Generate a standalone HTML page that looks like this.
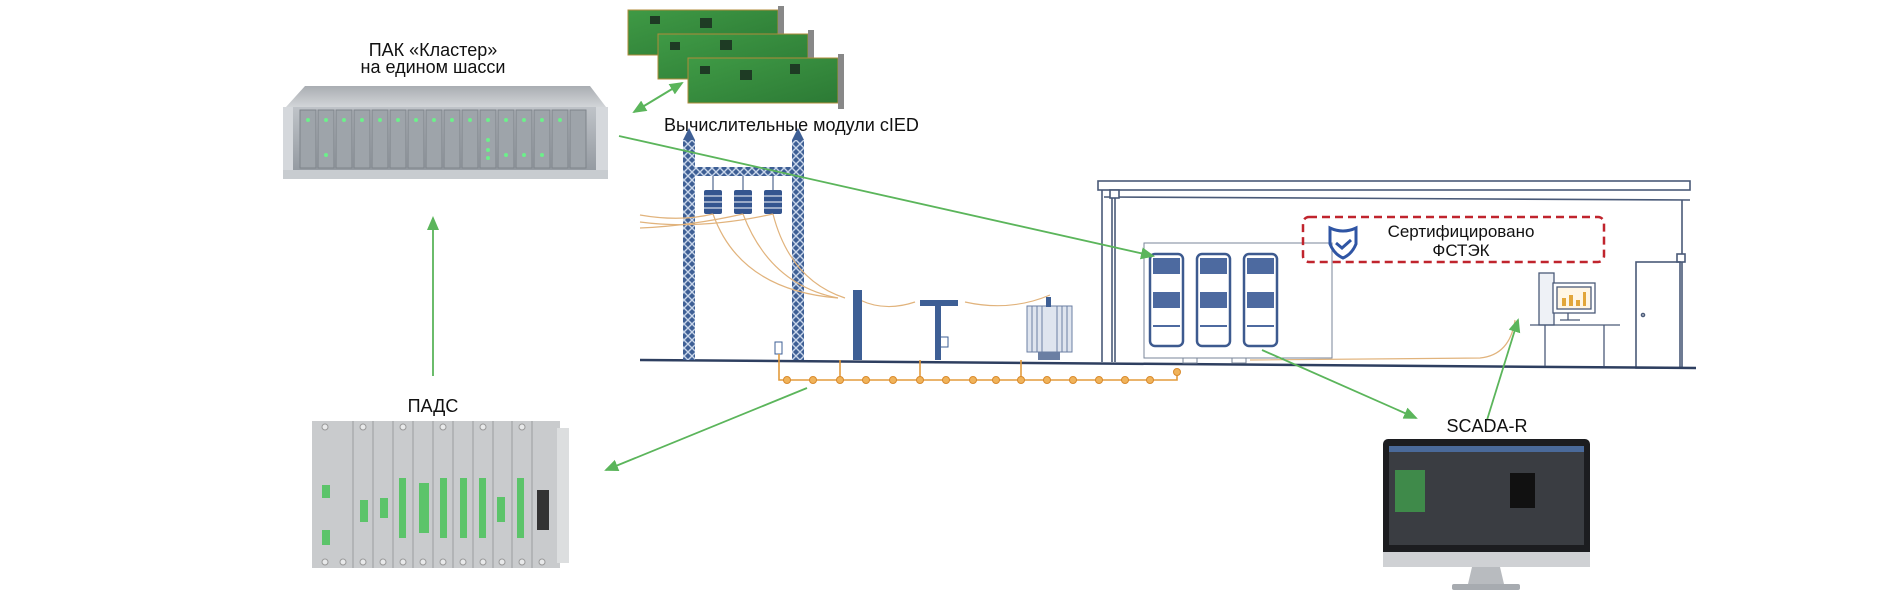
<!DOCTYPE html>
<html><head><meta charset="utf-8"><style>
html,body{margin:0;padding:0;background:#fff;width:1903px;height:611px;overflow:hidden}
svg{display:block}
text{font-family:"Liberation Sans","Noto Sans CJK SC",sans-serif;fill:#111}
</style></head><body>
<svg width="1903" height="611" viewBox="0 0 1903 611" xmlns="http://www.w3.org/2000/svg">
<defs>
<marker id="as" markerWidth="14" markerHeight="14" refX="12" refY="7" orient="auto-start-reverse" markerUnits="userSpaceOnUse"><path d="M0,1 L14,7 L0,13 z" fill="#5bb55b"/></marker>
<pattern id="lat" width="8" height="8" patternUnits="userSpaceOnUse"><rect width="8" height="8" fill="#3e5f95"/><path d="M0,0 L8,8 M8,0 L0,8" stroke="#c9d6ea" stroke-width="1.4"/></pattern>
<linearGradient id="chs" x1="0" y1="0" x2="0" y2="1"><stop offset="0" stop-color="#bfc3c8"/><stop offset="1" stop-color="#8f959c"/></linearGradient>
<linearGradient id="lid" x1="0" y1="0" x2="0" y2="1"><stop offset="0" stop-color="#a9adb2"/><stop offset="1" stop-color="#d2d5d8"/></linearGradient>
<linearGradient id="pcb" x1="0" y1="0" x2="1" y2="1"><stop offset="0" stop-color="#3f9a45"/><stop offset="1" stop-color="#2c7a35"/></linearGradient>
</defs>

<text x="433" y="56" font-size="18" text-anchor="middle">ПАК «Кластер»</text>
<text x="433" y="73" font-size="18" text-anchor="middle">на едином шасси</text>

<!-- Chassis -->
<polygon points="305,86 590,86 606,107 286,107" fill="url(#lid)"/>
<rect x="283" y="107" width="325" height="72" fill="url(#chs)"/>
<rect x="283" y="107" width="10" height="72" fill="#d5d8dc"/>
<rect x="596" y="107" width="12" height="72" fill="#d5d8dc"/>
<g fill="#9ea4aa" stroke="#7e848b" stroke-width="1">
<rect x="300" y="110" width="16" height="58"/><rect x="318" y="110" width="16" height="58"/><rect x="336" y="110" width="16" height="58"/><rect x="354" y="110" width="16" height="58"/><rect x="372" y="110" width="16" height="58"/><rect x="390" y="110" width="16" height="58"/><rect x="408" y="110" width="16" height="58"/><rect x="426" y="110" width="16" height="58"/><rect x="444" y="110" width="16" height="58"/><rect x="462" y="110" width="16" height="58"/><rect x="480" y="110" width="16" height="58"/><rect x="498" y="110" width="16" height="58"/><rect x="516" y="110" width="16" height="58"/><rect x="534" y="110" width="16" height="58"/><rect x="552" y="110" width="16" height="58"/><rect x="570" y="110" width="16" height="58"/>
</g>
<g fill="#6cf08a">
<circle cx="308" cy="120" r="2"/><circle cx="326" cy="120" r="2"/><circle cx="344" cy="120" r="2"/><circle cx="362" cy="120" r="2"/><circle cx="380" cy="120" r="2"/><circle cx="398" cy="120" r="2"/><circle cx="416" cy="120" r="2"/><circle cx="434" cy="120" r="2"/><circle cx="452" cy="120" r="2"/><circle cx="470" cy="120" r="2"/><circle cx="488" cy="120" r="2"/><circle cx="506" cy="120" r="2"/><circle cx="524" cy="120" r="2"/><circle cx="542" cy="120" r="2"/><circle cx="560" cy="120" r="2"/>
<circle cx="326" cy="155" r="2"/><circle cx="488" cy="140" r="2"/><circle cx="488" cy="150" r="2"/><circle cx="488" cy="158" r="2"/><circle cx="506" cy="155" r="2"/><circle cx="524" cy="155" r="2"/><circle cx="542" cy="155" r="2"/>
</g>
<rect x="283" y="170" width="325" height="9" fill="#c8ccd0"/>

<!-- PCB boards -->
<g>
<rect x="628" y="10" width="150" height="45" fill="url(#pcb)" stroke="#b08b3a"/>
<rect x="778" y="6" width="6" height="55" fill="#888"/>
<rect x="658" y="34" width="150" height="45" fill="url(#pcb)" stroke="#b08b3a"/>
<rect x="808" y="30" width="6" height="55" fill="#888"/>
<rect x="688" y="58" width="150" height="45" fill="url(#pcb)" stroke="#b08b3a"/>
<rect x="838" y="54" width="6" height="55" fill="#888"/>
<g fill="#1e3b24"><rect x="700" y="66" width="10" height="8"/><rect x="740" y="70" width="12" height="10"/><rect x="790" y="64" width="10" height="10"/><rect x="670" y="42" width="10" height="8"/><rect x="720" y="40" width="12" height="10"/><rect x="650" y="16" width="10" height="8"/><rect x="700" y="18" width="12" height="10"/></g>
</g>
<text x="664" y="131" font-size="18">Вычислительные модули cIED</text>
<line x1="634" y1="112" x2="682" y2="83" stroke="#5bb55b" stroke-width="2" marker-start="url(#as)" marker-end="url(#as)"/>

<!-- Building -->
<g stroke="#4a5a78" fill="none" stroke-width="1.6">
<rect x="1098" y="181" width="592" height="9" fill="#fff"/>
<line x1="1104" y1="197" x2="1690" y2="200"/>
<line x1="1102" y1="190" x2="1102" y2="362"/>
<line x1="1112" y1="197" x2="1112" y2="362"/>
<line x1="1115" y1="197" x2="1115" y2="362"/>
<rect x="1110" y="190" width="9" height="8" fill="#fff"/>
<line x1="1682" y1="200" x2="1682" y2="368"/>
<rect x="1677" y="254" width="8" height="8" fill="#fff"/>
<rect x="1636" y="262" width="44" height="106"/>
<circle cx="1643" cy="315" r="1.5"/>
</g>
<line x1="640" y1="360" x2="1696" y2="368" stroke="#2e3f60" stroke-width="2.5"/>

<!-- Tower -->
<rect x="683" y="140" width="12" height="220" fill="url(#lat)"/>
<rect x="792" y="140" width="12" height="220" fill="url(#lat)"/>
<polygon points="683,140 689,128 695,140" fill="#3e5f95"/>
<polygon points="792,140 798,128 804,140" fill="#3e5f95"/>
<rect x="695" y="167" width="97" height="9" fill="url(#lat)"/>
<g stroke="#2e4a7a" stroke-width="1"><line x1="713" y1="176" x2="713" y2="190"/><line x1="743" y1="176" x2="743" y2="190"/><line x1="773" y1="176" x2="773" y2="190"/></g>
<g fill="#34558f">
<rect x="704" y="190" width="18" height="24" rx="2"/><rect x="734" y="190" width="18" height="24" rx="2"/><rect x="764" y="190" width="18" height="24" rx="2"/>
</g>
<g stroke="#fff" stroke-width="1"><line x1="704" y1="196" x2="722" y2="196"/><line x1="704" y1="202" x2="722" y2="202"/><line x1="704" y1="208" x2="722" y2="208"/><line x1="734" y1="196" x2="752" y2="196"/><line x1="734" y1="202" x2="752" y2="202"/><line x1="734" y1="208" x2="752" y2="208"/><line x1="764" y1="196" x2="782" y2="196"/><line x1="764" y1="202" x2="782" y2="202"/><line x1="764" y1="208" x2="782" y2="208"/></g>
<g stroke="#e1b37c" fill="none" stroke-width="1.2">
<path d="M640,215 Q680,222 713,214"/><path d="M640,228 Q690,226 743,214"/><path d="M640,222 Q700,230 773,214"/>
<path d="M713,214 Q740,290 838,298"/><path d="M743,214 Q770,285 838,298"/><path d="M773,214 Q790,280 845,298"/>
<path d="M860,300 Q885,312 915,302"/><path d="M965,302 Q1010,312 1050,295"/>
<path d="M1250,360 L1480,358 Q1510,355 1515,320"/>
</g>
<rect x="853" y="290" width="9" height="70" fill="#3e5f95"/>
<rect x="920" y="300" width="38" height="6" fill="#3e5f95"/>
<rect x="935" y="306" width="6" height="54" fill="#3e5f95"/>
<rect x="940" y="337" width="8" height="10" fill="none" stroke="#3e5f95"/>
<rect x="1027" y="306" width="45" height="46" fill="#dfe5ef" stroke="#6b7fa3"/>
<g stroke="#6b7fa3"><line x1="1032" y1="306" x2="1032" y2="352"/><line x1="1037" y1="306" x2="1037" y2="352"/><line x1="1042" y1="306" x2="1042" y2="352"/><line x1="1057" y1="306" x2="1057" y2="352"/><line x1="1062" y1="306" x2="1062" y2="352"/><line x1="1067" y1="306" x2="1067" y2="352"/></g>
<rect x="1046" y="297" width="5" height="10" fill="#3e5f95"/>
<rect x="1038" y="352" width="22" height="8" fill="#6b7fa3"/>
<rect x="775" y="342" width="7" height="12" fill="#fff" stroke="#3e5f95"/>

<g stroke="#e39b3c" fill="none" stroke-width="1.6">
<polyline points="779,354 779,380 1177,380 1177,372"/>
<line x1="840" y1="360" x2="840" y2="380"/><line x1="920" y1="360" x2="920" y2="380"/><line x1="1021" y1="360" x2="1021" y2="380"/>
</g>
<g fill="#f0b35a" stroke="#d98a2c">
<circle cx="787" cy="380" r="3.5"/><circle cx="813" cy="380" r="3.5"/><circle cx="840" cy="380" r="3.5"/><circle cx="866" cy="380" r="3.5"/><circle cx="893" cy="380" r="3.5"/><circle cx="920" cy="380" r="3.5"/><circle cx="946" cy="380" r="3.5"/><circle cx="973" cy="380" r="3.5"/><circle cx="996" cy="380" r="3.5"/><circle cx="1021" cy="380" r="3.5"/><circle cx="1047" cy="380" r="3.5"/><circle cx="1073" cy="380" r="3.5"/><circle cx="1099" cy="380" r="3.5"/><circle cx="1125" cy="380" r="3.5"/><circle cx="1150" cy="380" r="3.5"/><circle cx="1177" cy="372" r="3.5"/>
</g>

<!-- Cabinet -->
<rect x="1144" y="243" width="188" height="115" fill="#fff" stroke="#7a8699"/>
<g fill="#fff" stroke="#3d5a8f" stroke-width="2.5">
<rect x="1150" y="254" width="33" height="92" rx="5"/><rect x="1197" y="254" width="33" height="92" rx="5"/><rect x="1244" y="254" width="33" height="92" rx="5"/>
</g>
<g fill="#4d6aa0">
<rect x="1153" y="258" width="27" height="16"/><rect x="1200" y="258" width="27" height="16"/><rect x="1247" y="258" width="27" height="16"/>
<rect x="1153" y="292" width="27" height="16"/><rect x="1200" y="292" width="27" height="16"/><rect x="1247" y="292" width="27" height="16"/>
<rect x="1153" y="325" width="27" height="2"/><rect x="1200" y="325" width="27" height="2"/><rect x="1247" y="325" width="27" height="2"/>
</g>
<g stroke="#7a8699" fill="#fff"><rect x="1183" y="358" width="14" height="5"/><rect x="1232" y="358" width="14" height="5"/></g>

<rect x="1303" y="217" width="301" height="45" rx="6" fill="none" stroke="#c0242d" stroke-width="2.5" stroke-dasharray="8,5"/>
<path d="M1330,228 Q1343,234 1356,228 L1356,244 Q1352,254 1343,258 Q1334,254 1330,244 Z" fill="none" stroke="#2f55a4" stroke-width="3"/>
<path d="M1336,243 L1342,248 L1351,240" fill="none" stroke="#2f55a4" stroke-width="3"/>
<text x="1461" y="237" font-size="17" text-anchor="middle">Сертифицировано</text>
<text x="1461" y="256" font-size="17" text-anchor="middle">ФСТЭК</text>

<g stroke="#4a5a78" fill="#fff" stroke-width="1.3">
<rect x="1539" y="273" width="15" height="52" fill="#eef1f6"/>
<rect x="1553" y="283" width="42" height="30"/>
<rect x="1557" y="287" width="34" height="22" fill="#fff6e5"/>
<line x1="1530" y1="325" x2="1620" y2="325"/>
<line x1="1545" y1="325" x2="1545" y2="366"/><line x1="1604" y1="325" x2="1604" y2="366"/>
<line x1="1568" y1="313" x2="1568" y2="320"/><line x1="1560" y1="320" x2="1580" y2="320"/>
</g>
<g fill="#e2a63a"><rect x="1562" y="298" width="4" height="8"/><rect x="1569" y="295" width="4" height="11"/><rect x="1576" y="300" width="4" height="6"/><rect x="1583" y="292" width="3" height="14"/></g>

<line x1="619" y1="136" x2="1153" y2="256" stroke="#5bb55b" stroke-width="1.8" marker-end="url(#as)"/>
<line x1="433" y1="376" x2="433" y2="218" stroke="#5bb55b" stroke-width="1.8" marker-end="url(#as)"/>
<line x1="807" y1="388" x2="606" y2="470" stroke="#5bb55b" stroke-width="1.8" marker-end="url(#as)"/>
<line x1="1262" y1="350" x2="1416" y2="418" stroke="#5bb55b" stroke-width="1.8" marker-end="url(#as)"/>
<line x1="1487" y1="420" x2="1518" y2="320" stroke="#5bb55b" stroke-width="1.8" marker-end="url(#as)"/>

<text x="433" y="412" font-size="18" text-anchor="middle">ПАДС</text>
<rect x="312" y="421" width="248" height="147" fill="#c9cbcd"/>
<rect x="557" y="428" width="12" height="135" fill="#dcdedf"/>
<g stroke="#9a9d9f" fill="none">
<line x1="353" y1="421" x2="353" y2="568"/><line x1="373" y1="421" x2="373" y2="568"/><line x1="393" y1="421" x2="393" y2="568"/><line x1="413" y1="421" x2="413" y2="568"/><line x1="433" y1="421" x2="433" y2="568"/><line x1="453" y1="421" x2="453" y2="568"/><line x1="473" y1="421" x2="473" y2="568"/><line x1="493" y1="421" x2="493" y2="568"/><line x1="512" y1="421" x2="512" y2="568"/><line x1="532" y1="421" x2="532" y2="568"/>
</g>
<g fill="#5cc46a">
<rect x="322" y="485" width="8" height="13"/><rect x="322" y="530" width="8" height="15"/><rect x="360" y="500" width="8" height="22"/><rect x="380" y="498" width="8" height="20"/>
<rect x="399" y="478" width="7" height="60"/><rect x="419" y="483" width="10" height="50"/><rect x="440" y="478" width="7" height="60"/><rect x="460" y="478" width="7" height="60"/><rect x="479" y="478" width="7" height="60"/><rect x="497" y="497" width="8" height="25"/><rect x="517" y="478" width="7" height="60"/>
</g>
<rect x="537" y="490" width="12" height="40" fill="#333"/>
<g fill="#e8e9ea" stroke="#999"><circle cx="325" cy="562" r="3"/><circle cx="343" cy="562" r="3"/><circle cx="363" cy="562" r="3"/><circle cx="383" cy="562" r="3"/><circle cx="403" cy="562" r="3"/><circle cx="423" cy="562" r="3"/><circle cx="443" cy="562" r="3"/><circle cx="463" cy="562" r="3"/><circle cx="483" cy="562" r="3"/><circle cx="502" cy="562" r="3"/><circle cx="522" cy="562" r="3"/><circle cx="542" cy="562" r="3"/>
<circle cx="325" cy="427" r="3"/><circle cx="363" cy="427" r="3"/><circle cx="403" cy="427" r="3"/><circle cx="443" cy="427" r="3"/><circle cx="483" cy="427" r="3"/><circle cx="522" cy="427" r="3"/></g>

<text x="1487" y="432" font-size="18" text-anchor="middle">SCADA-R</text>
<rect x="1383" y="439" width="207" height="128" rx="5" fill="#1c1d20"/>
<rect x="1389" y="446" width="195" height="99" fill="#3a3d42"/>
<rect x="1389" y="446" width="195" height="6" fill="#4a6a9a"/>
<rect x="1395" y="470" width="30" height="42" fill="#3f8a4a"/>
<rect x="1510" y="473" width="25" height="35" fill="#111"/>
<rect x="1383" y="552" width="207" height="15" fill="#cfd1d4"/>
<polygon points="1472,567 1500,567 1504,584 1468,584" fill="#b8bbbf"/>
<rect x="1452" y="584" width="68" height="6" rx="2" fill="#a7abb0"/>
</svg>
</body></html>
